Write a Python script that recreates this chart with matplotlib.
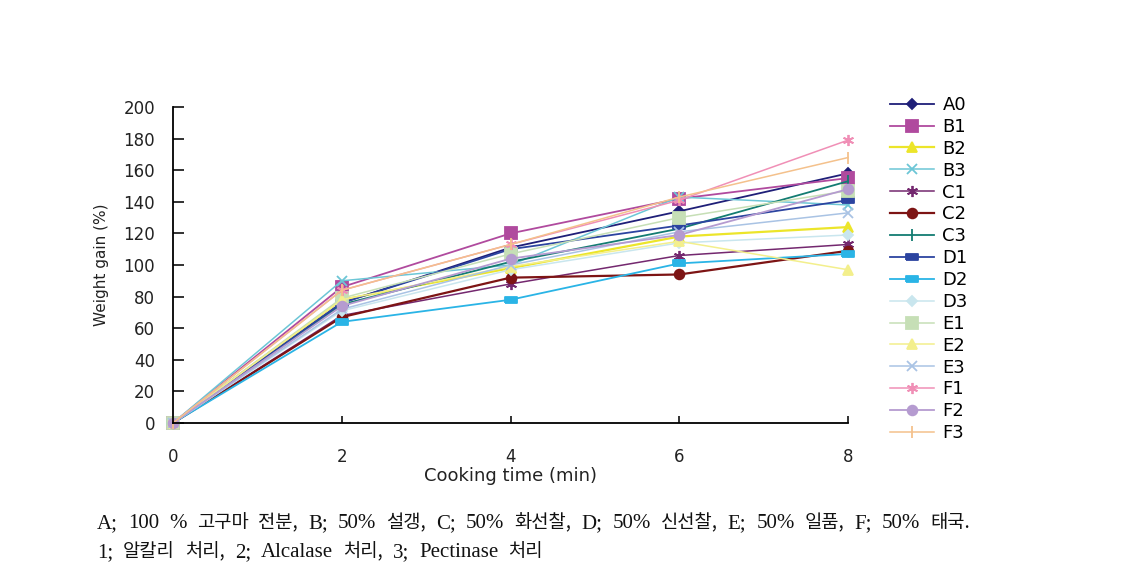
import matplotlib
matplotlib.use("Agg")
import matplotlib.pyplot as plt

times = [0, 2, 4, 6, 8]
labels = ["A0", "B1", "B2", "B3", "C1", "C2", "C3", "D1", "D2", "D3",
          "E1", "E2", "E3", "F1", "F2", "F3"]

A0 = [0, 76, 111, 134, 158]
B1 = [0, 86, 120, 142, 155]
B2 = [0, 78, 98, 118, 124]
B3 = [0, 90, 100, 143, 138]
C1 = [0, 68, 88, 106, 113]
C2 = [0, 67, 92, 94, 109]
C3 = [0, 75, 102, 123, 153]
D1 = [0, 76, 110, 125, 141]
D2 = [0, 64, 78, 101, 107]
D3 = [0, 71, 97, 114, 119]
E1 = [0, 79, 107, 130, 147]
E2 = [0, 78, 99, 115, 97]
E3 = [0, 72, 100, 121, 133]
F1 = [0, 84, 113, 141, 179]
F2 = [0, 74, 104, 119, 148]
F3 = [0, 84, 113, 143, 168]
series = [A0, B1, B2, B3, C1, C2, C3, D1, D2, D3, E1, E2, E3, F1, F2, F3]

yticks = [0, 20, 40, 60, 80, 100, 120, 140, 160, 180, 200]
xticks = [0, 2, 4, 6, 8]

caption1 = "A; 100 % 고구마 전분, B; 50% 설갱, C; 50% 화선찰, D; 50% 신선찰, E; 50% 일품, F; 50% 태국."
caption2 = "1; 알칼리 처리, 2; Alcalase 처리, 3; Pectinase 처리"

colors = ["#1f1f78", "#b04a9e", "#ece52a", "#6cc6d6", "#74286f", "#7d1414",
          "#137c72", "#2c44a0", "#2ab4e6", "#c9e6ee", "#c6dfb6", "#f3ef8c",
          "#a9c3e4", "#f08fb6", "#b59bd0", "#f4c18c"]
rect = [(-1, -0.5), (1, -0.5), (1, 0.5), (-1, 0.5), (-1, -0.5)]
markers = ["D", "s", "^", "x", (6, 2, 0), "o", "|", rect, rect, "D",
           "s", "^", "x", (6, 2, 0), "o", "|"]
msizes = [5, 8, 7, 7, 8, 7, 8, 8, 9, 5, 8, 7, 7, 8, 7, 8]
lwidths = [1.3, 1.3, 1.6, 1.1, 1.1, 1.6, 1.3, 1.3, 1.3, 1.1, 1.1, 1.1, 1.1, 1.1, 1.3, 1.1]

W, H = 1125, 582
fig = plt.figure(figsize=(W / 100, H / 100), dpi=100)
ax = fig.add_axes([173 / W, 1 - 423 / H, (848 - 173) / W, (423 - 107) / H])

for lab, vals, c, m, ms, lw in zip(labels, series, colors, markers, msizes, lwidths):
    ax.plot(times, vals, label=lab, clip_on=False, marker=m, markersize=ms,
            color=c, linewidth=lw, markeredgecolor=c, markerfacecolor=c,
            markeredgewidth=1.3)

ax.set_xlim(0, 8)
ax.set_ylim(0, 200)
ax.set_xticks(xticks)
ax.set_yticks(yticks)
for s in ["top", "right"]:
    ax.spines[s].set_visible(False)
for s in ["left", "bottom"]:
    ax.spines[s].set_linewidth(1.3)
ax.tick_params(axis="y", direction="in", length=8, width=1.3, pad=13,
               labelsize=12, labelfontfamily="DejaVu Sans", colors="#222222")
ax.tick_params(axis="x", direction="in", length=5, width=1.3, pad=18,
               labelsize=12, labelfontfamily="DejaVu Sans", colors="#222222")
ax.set_xlabel("Cooking time (min)", fontsize=13, family="DejaVu Sans",
              labelpad=1, color="#222222")
ax.set_ylabel("Weight gain (%)", fontsize=11, family="DejaVu Sans",
              labelpad=10, color="#222222")

leg = ax.legend(loc="upper left", bbox_to_anchor=(890 / W, 1 - 96 / H),
                bbox_transform=fig.transFigure, frameon=False,
                prop={"family": "DejaVu Sans", "size": 13},
                handlelength=2.45, handletextpad=0.45, labelspacing=0.215,
                borderaxespad=0, borderpad=0)

# caption: Latin words in a serif face, Hangul words in the CJK face
renderer = fig.canvas.get_renderer()


def is_hangul(word):
    return any("\uac00" <= ch <= "\ud7a3" for ch in word)


def place_words(text, x0, y_base, x_end=None, gap=None):
    words = text.split(" ")
    objs = []
    for w in words:
        if is_hangul(w):
            t = fig.text(0, 0, w, family=["Noto Sans CJK KR", "DejaVu Sans"],
                         fontsize=13.5, va="baseline", ha="left", color="#111111")
        else:
            t = fig.text(0, 0, w, family=["Liberation Serif", "DejaVu Sans"],
                         fontsize=15, va="baseline", ha="left", color="#111111")
        objs.append(t)
    widths = [t.get_window_extent(renderer).width for t in objs]
    if x_end is not None:
        gap = (x_end - x0 - sum(widths)) / (len(objs) - 1)
    x = x0
    for t, wd in zip(objs, widths):
        t.set_position((x / W, 1 - y_base / H))
        x += wd + gap
    return gap


g = place_words(caption1, 97, 528, x_end=970)
place_words(caption2, 97, 557, gap=g)

fig.savefig("out.png", dpi=100)
